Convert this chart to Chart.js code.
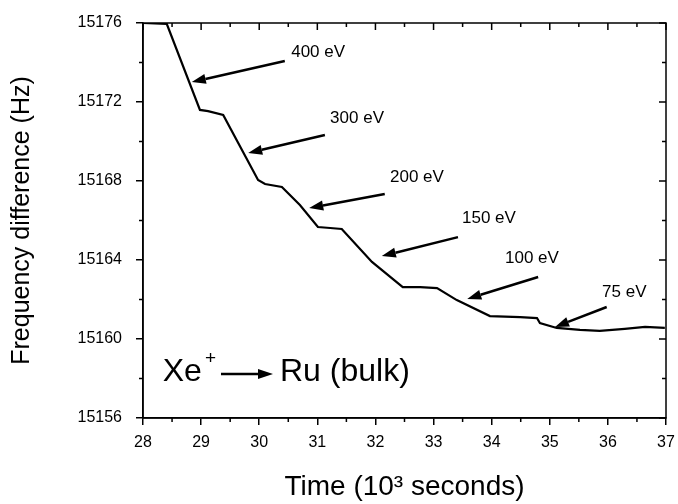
<!DOCTYPE html>
<html>
<head>
<meta charset="utf-8">
<script src="https://cdn.jsdelivr.net/npm/chart.js@4"></script>
<style>
  html, body { margin: 0; padding: 0; background: #fff; }
  canvas { display: block; }
</style>
</head>
<body>
<canvas id="chart" width="678" height="504"></canvas>
<script>
// --- data ---
const timeK = [28.0, 28.41, 28.98, 29.12, 29.38, 29.98, 30.10, 30.39, 30.70, 31.01,
  31.22, 31.42, 31.94, 32.47, 32.77, 33.06, 33.40, 33.97, 34.49, 34.78,
  34.83, 35.12, 35.52, 35.86, 36.29, 36.64, 36.98];
const freqHz = [15176.0, 15175.95, 15171.6, 15171.54, 15171.34, 15168.05, 15167.85, 15167.7, 15166.78, 15165.67,
  15165.62, 15165.57, 15163.9, 15162.63, 15162.63, 15162.58, 15161.97, 15161.16, 15161.11, 15161.06,
  15160.81, 15160.56, 15160.46, 15160.41, 15160.51, 15160.61, 15160.56];

const xMin = 28, xMax = 37;
const yMin = 15156, yMax = 15176;

// energy labels and arrows (data coords: label, arrow tail, arrow head)
const energyLabels = ["400 eV", "300 eV", "200 eV", "150 eV", "100 eV", "75 eV"];
const labelX = [30.55, 31.22, 32.25, 33.49, 34.23, 35.90];
const labelY = [15174.53, 15171.19, 15168.2, 15166.13, 15164.1, 15162.38];
const tailX = [30.44, 31.13, 32.16, 33.42, 34.80, 35.98];
const tailY = [15174.08, 15170.33, 15167.34, 15165.16, 15163.14, 15161.62];
const headX = [28.84, 29.81, 30.86, 32.11, 33.58, 35.09];
const headY = [15173.01, 15169.42, 15166.63, 15164.2, 15162.03, 15160.61];

const FONT = "'Liberation Sans', Arial, sans-serif";

function arrow(ctx, x1, y1, x2, y2, headLen, headW, lw) {
  const ang = Math.atan2(y2 - y1, x2 - x1);
  const bx = x2 - headLen * Math.cos(ang);
  const by = y2 - headLen * Math.sin(ang);
  ctx.lineWidth = lw;
  ctx.beginPath();
  ctx.moveTo(x1, y1);
  ctx.lineTo(bx, by);
  ctx.stroke();
  ctx.beginPath();
  ctx.moveTo(x2, y2);
  ctx.lineTo(bx + headW / 2 * Math.sin(ang), by - headW / 2 * Math.cos(ang));
  ctx.lineTo(bx - headW / 2 * Math.sin(ang), by + headW / 2 * Math.cos(ang));
  ctx.closePath();
  ctx.fill();
}

// frame, minor ticks, inward ticks on top/right
const framePlugin = {
  id: "frame",
  afterDraw(chart) {
    const { ctx, chartArea: a, scales: { x, y } } = chart;
    ctx.save();
    ctx.strokeStyle = "#000";
    ctx.lineWidth = 1.5;
    ctx.strokeRect(a.left, a.top, a.right - a.left, a.bottom - a.top);
    ctx.beginPath();
    for (let v = xMin; v <= xMax + 1e-9; v += 0.5) {
      const px = x.getPixelForValue(v);
      const major = Math.abs(v - Math.round(v)) < 1e-9;
      const len = major ? 7 : 4;
      ctx.moveTo(px, a.top);
      ctx.lineTo(px, a.top + len);
      if (!major) {
        ctx.moveTo(px, a.bottom);
        ctx.lineTo(px, a.bottom + 4);
      }
    }
    for (let v = yMin; v <= yMax + 1e-9; v += 2) {
      const py = y.getPixelForValue(v);
      const major = (v - yMin) % 4 === 0;
      const len = major ? 7 : 4;
      ctx.moveTo(a.right, py);
      ctx.lineTo(a.right - len, py);
      if (!major) {
        ctx.moveTo(a.left, py);
        ctx.lineTo(a.left - 4, py);
      }
    }
    ctx.stroke();
    ctx.restore();
  },
};

// arrows + text annotations
const notesPlugin = {
  id: "notes",
  afterDatasetsDraw(chart) {
    const { ctx, scales: { x, y } } = chart;
    ctx.save();
    ctx.fillStyle = "#000";
    ctx.strokeStyle = "#000";
    ctx.font = "17px " + FONT;
    ctx.textBaseline = "middle";
    ctx.textAlign = "left";
    energyLabels.forEach((t, i) => {
      ctx.fillText(t, x.getPixelForValue(labelX[i]), y.getPixelForValue(labelY[i]));
      arrow(ctx,
        x.getPixelForValue(tailX[i]), y.getPixelForValue(tailY[i]),
        x.getPixelForValue(headX[i]), y.getPixelForValue(headY[i]),
        14, 10, 2.5);
    });

    // Xe+ -> Ru (bulk)
    let px = x.getPixelForValue(28.34);
    const py = y.getPixelForValue(15158.33);
    ctx.font = "32px " + FONT;
    ctx.fillText("Xe", px, py);
    px += ctx.measureText("Xe").width + 3;
    ctx.font = "19px " + FONT;
    ctx.fillText("+", px, py - 13);
    px += ctx.measureText("+").width + 5;
    arrow(ctx, px, py + 2, px + 52, py + 2, 15, 10, 2.5);
    px += 59;
    ctx.font = "32px " + FONT;
    ctx.fillText("Ru (bulk)", px, py);
    ctx.restore();
  },
};

new Chart(document.getElementById("chart"), {
  type: "scatter",
  data: {
    datasets: [{
      data: timeK.map((t, i) => ({ x: t, y: freqHz[i] })),
      showLine: true,
      borderColor: "#000",
      borderWidth: 2.2,
      pointRadius: 0,
      tension: 0,
    }],
  },
  options: {
    responsive: false,
    animation: false,
    events: [],
    layout: { padding: { left: 0, top: 23, right: 12, bottom: 0 } },
    plugins: { legend: { display: false }, tooltip: { enabled: false } },
    scales: {
      x: {
        type: "linear",
        min: xMin,
        max: xMax,
        afterFit(s) { s.height = 86; s.paddingLeft = 0; s.paddingRight = 0; },
        ticks: { stepSize: 1, color: "#000", font: { family: FONT, size: 16 }, padding: 8, maxRotation: 0 },
        grid: { drawOnChartArea: false, tickLength: 7, color: "#000", lineWidth: 1.5 },
        border: { display: true, color: "#000", width: 1.5 },
        title: {
          display: true,
          text: "Time (10\u00b3 seconds)",
          color: "#000",
          font: { family: FONT, size: 28 },
          padding: { top: 0, bottom: 0 },
        },
      },
      y: {
        type: "linear",
        min: yMin,
        max: yMax,
        afterFit(s) { s.width = 143; s.paddingTop = 0; s.paddingBottom = 0; },
        ticks: {
          stepSize: 4, color: "#000", font: { family: FONT, size: 16 }, padding: 14,
          callback: (v) => String(v),
        },
        grid: { drawOnChartArea: false, tickLength: 7, color: "#000", lineWidth: 1.5 },
        border: { display: true, color: "#000", width: 1.5 },
        title: {
          display: true,
          text: "Frequency difference (Hz)",
          color: "#000",
          font: { family: FONT, size: 25 },
          padding: { top: 7, bottom: 0 },
        },
      },
    },
  },
  plugins: [framePlugin, notesPlugin],
});
</script>
</body>
</html>
